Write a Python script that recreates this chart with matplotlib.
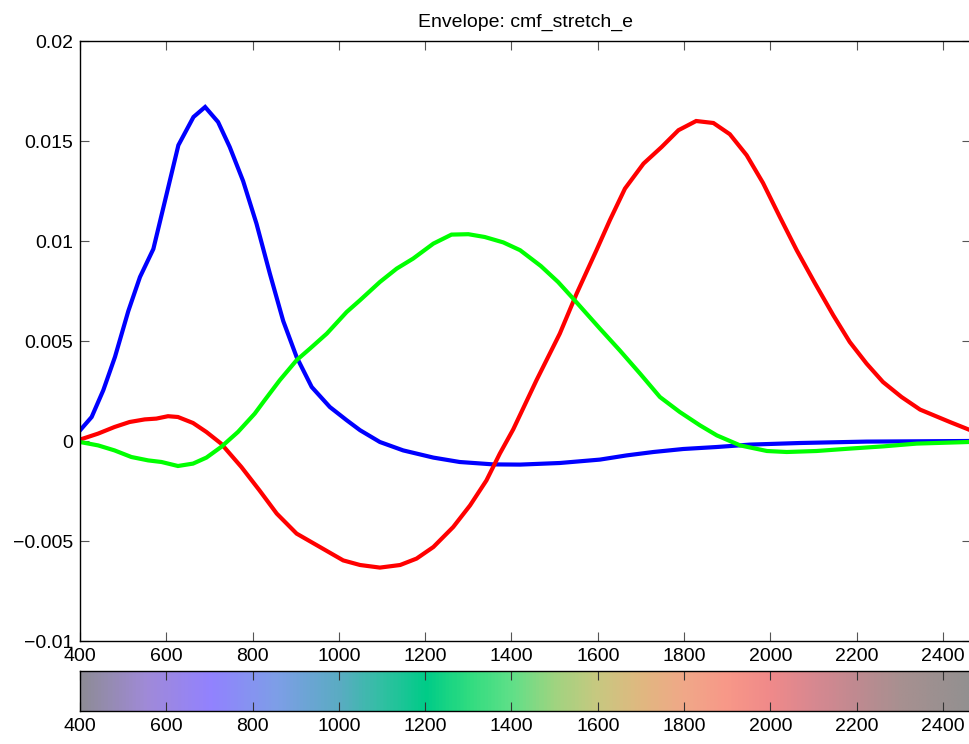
import numpy as np
import matplotlib
matplotlib.use('Agg')
import matplotlib.pyplot as plt
from matplotlib.colors import LinearSegmentedColormap

plt.rcParams['font.family'] = ['Liberation Sans', 'DejaVu Sans']
plt.rcParams['font.size'] = 14

# envelope curves, read as (wavelength, value) pairs
blue_wl = [400, 427, 454, 481, 512, 539, 570, 601, 628, 663, 690, 720, 747, 778,
           809, 840, 871, 902, 937, 979, 1018, 1049, 1095, 1149, 1219, 1280, 1358,
           1420, 1512, 1605, 1667, 1729, 1798, 1876, 1953, 2069, 2223, 2460]
blue_val = [0.00053, 0.0012, 0.00254, 0.0042, 0.0065, 0.0082, 0.0096, 0.01237,
            0.01479, 0.0162, 0.0167, 0.01595, 0.0147, 0.0130, 0.01087, 0.00837,
            0.0060, 0.0042, 0.0027, 0.0017, 0.00104, 0.00054, -0.00005, -0.00047,
            -0.00083, -0.00105, -0.00117, -0.00118, -0.0011, -0.00093, -0.00072,
            -0.00055, -0.0004, -0.0003, -0.00018, -0.0001, -0.00003, 0.0]

red_wl = [400, 442, 480, 515, 550, 577, 604, 627, 662, 693, 727, 774, 816, 856,
          902, 956, 1010, 1049, 1095, 1142, 1180, 1219, 1265, 1304, 1342, 1373,
          1404, 1458, 1512, 1551, 1597, 1628, 1663, 1706, 1748, 1787, 1828, 1868,
          1906, 1945, 1983, 2022, 2061, 2103, 2146, 2184, 2223, 2261, 2304, 2347,
          2416, 2460]
red_val = [0.00007, 0.00037, 0.0007, 0.00095, 0.00108, 0.00112, 0.00124, 0.0012,
           0.0009, 0.00045, -0.00013, -0.0013, -0.00247, -0.00363, -0.00463,
           -0.0053, -0.00597, -0.0062, -0.00633, -0.0062, -0.00588, -0.0053,
           -0.0043, -0.00322, -0.00197, -0.00063, 0.00058, 0.00304, 0.00537,
           0.00737, 0.00954, 0.01104, 0.01262, 0.01387, 0.0147, 0.01554, 0.0160,
           0.0159, 0.01534, 0.01429, 0.0129, 0.0112, 0.00954, 0.0079, 0.00628,
           0.00495, 0.00387, 0.00295, 0.0022, 0.00157, 0.00095, 0.00057]

green_wl = [400, 442, 480, 519, 558, 589, 627, 662, 693, 727, 766, 805, 828, 863,
            902, 933, 972, 1018, 1049, 1095, 1134, 1172, 1219, 1261, 1300, 1338,
            1381, 1420, 1468, 1508, 1543, 1605, 1651, 1698, 1744, 1790, 1837, 1876,
            1930, 1992, 2038, 2107, 2184, 2261, 2339, 2460]
green_val = [-0.00005, -0.00022, -0.00047, -0.0008, -0.00097, -0.00105, -0.00125,
             -0.00113, -0.00083, -0.0003, 0.00045, 0.00137, 0.00204, 0.00304,
             0.00404, 0.00462, 0.00537, 0.00645, 0.00704, 0.00795, 0.00862,
             0.00912, 0.00987, 0.01032, 0.01034, 0.0102, 0.00993, 0.00954,
             0.00875, 0.00795, 0.00712, 0.00562, 0.00453, 0.00337, 0.0022,
             0.00145, 0.00078, 0.00028, -0.00022, -0.0005, -0.00055, -0.0005,
             -0.00038, -0.00027, -0.00013, -0.00005]

# colour strip along the wavelength axis
strip_wl = [400, 550, 700, 850, 1000, 1100, 1200, 1300, 1400, 1500, 1600, 1700,
            1800, 1900, 2000, 2100, 2200, 2300, 2465]
strip_hex = ['#8e8c96', '#a08ad8', '#9282ff', '#7e9ee8', '#5aacc2', '#30c0a2',
             '#00cc88', '#30dc80', '#60e088', '#a0d480', '#c8c880', '#e0b880',
             '#f0a888', '#f89888', '#f08a8a', '#d88890', '#c08a90', '#a89090',
             '#929090']

x_ticks = [400, 600, 800, 1000, 1200, 1400, 1600, 1800, 2000, 2200, 2400]
y_ticks = [-0.01, -0.005, 0, 0.005, 0.01, 0.015, 0.02]
y_labels = ['\u22120.01', '\u22120.005', '0', '0.005', '0.01', '0.015', '0.02']

xmin, xmax = 400, 2465

fig = plt.figure(figsize=(9.69, 7.44), dpi=100)
W, H = 969.0, 744.0
left, right = 80 / W, 971 / W
ax = fig.add_axes([left, (H - 641) / H, right - left, 600 / H])
cax = fig.add_axes([left, (H - 711) / H, right - left, 40 / H])

ax.plot(blue_wl, blue_val, color='#0000ff', lw=3, solid_joinstyle='miter')
ax.plot(red_wl, red_val, color='#ff0000', lw=3, solid_joinstyle='miter')
ax.plot(green_wl, green_val, color='#00ff00', lw=3, solid_joinstyle='miter')

ax.set_xlim(xmin, xmax)
ax.set_ylim(-0.01, 0.02)
ax.set_xticks(x_ticks)
ax.set_yticks(y_ticks)
ax.set_yticklabels(y_labels)
ax.tick_params(direction='in', top=True, right=True, length=6.5, width=0.8,
               color='#555555', labelsize=14, pad=5)
for s in ax.spines.values():
    s.set_linewidth(1.0)
    s.set_color('black')
ax.set_title('Envelope: cmf_stretch_e', fontsize=14, pad=10)

cmap = LinearSegmentedColormap.from_list(
    'strip', [((w - xmin) / (xmax - xmin), c) for w, c in zip(strip_wl, strip_hex)])
grid = np.linspace(xmin, xmax, 800).reshape(1, -1)
cax.imshow(grid, cmap=cmap, aspect='auto', extent=[xmin, xmax, 0, 1],
           vmin=xmin, vmax=xmax, interpolation='bilinear')
cax.set_xlim(xmin, xmax)
cax.set_ylim(0, 1)
cax.set_yticks([])
cax.set_xticks(x_ticks)
cax.tick_params(axis='x', direction='in', top=True, bottom=True, length=6.5,
                width=0.8, color='#333333', labelsize=14, pad=5)
for s in cax.spines.values():
    s.set_linewidth(1.0)
    s.set_color('black')

fig.savefig('out.png', dpi=100)
